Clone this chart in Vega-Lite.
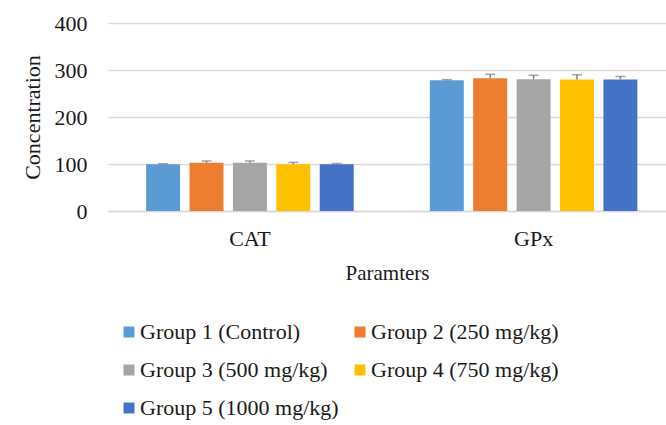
{
  "$schema": "https://vega.github.io/schema/vega-lite/v6.json",
  "autosize": "none",
  "width": 558,
  "height": 188,
  "padding": {"left": 108, "top": 23, "right": 0, "bottom": 214},
  "background": "white",
  "config": {
    "view": {"stroke": null},
    "font": "Liberation Serif",
    "axis": {"labelFont": "Liberation Serif", "titleFont": "Liberation Serif", "labelColor": "#1a1a1a", "titleColor": "#1a1a1a", "titleFontWeight": "normal"},
    "legend": {"labelFont": "Liberation Serif", "labelColor": "#1a1a1a"}
  },
  "data": {
    "values": [
      {"param": "CAT", "group": "Group 1 (Control)", "value": 99.5, "err": 1},
      {"param": "CAT", "group": "Group 2 (250 mg/kg)", "value": 102.5, "err": 4},
      {"param": "CAT", "group": "Group 3 (500 mg/kg)", "value": 102.5, "err": 4},
      {"param": "CAT", "group": "Group 4 (750 mg/kg)", "value": 99.5, "err": 4},
      {"param": "CAT", "group": "Group 5 (1000 mg/kg)", "value": 99.5, "err": 1.5},
      {"param": "GPx", "group": "Group 1 (Control)", "value": 278, "err": 1.5},
      {"param": "GPx", "group": "Group 2 (250 mg/kg)", "value": 282.3, "err": 8.5},
      {"param": "GPx", "group": "Group 3 (500 mg/kg)", "value": 280.2, "err": 8.5},
      {"param": "GPx", "group": "Group 4 (750 mg/kg)", "value": 280, "err": 10},
      {"param": "GPx", "group": "Group 5 (1000 mg/kg)", "value": 280, "err": 6}
    ]
  },
  "transform": [{"calculate": "datum.value + datum.err", "as": "upper"}],
  "encoding": {
    "x": {
      "field": "param", "type": "nominal",
      "scale": {"paddingInner": 0.1, "paddingOuter": 0.0335, "align": 0.75},
      "axis": {
        "title": "Paramters", "labelAngle": 0, "labelFontSize": 22, "titleFontSize": 21,
        "labelPadding": 17, "titlePadding": 13, "ticks": false,
        "domainColor": "#d9d9d9", "domainWidth": 1.3
      }
    },
    "xOffset": {
      "field": "group", "type": "nominal",
      "scale": {"paddingInner": 0.217, "paddingOuter": 0.55}
    }
  },
  "layer": [
    {
      "mark": {"type": "bar"},
      "encoding": {
        "y": {
          "field": "value", "type": "quantitative",
          "scale": {"domain": [0, 400]},
          "axis": {
            "title": "Concentration", "values": [0, 100, 200, 300, 400],
            "labelFontSize": 22, "titleFontSize": 22, "labelPadding": 21,
            "titlePadding": 10, "ticks": false, "domain": false,
            "gridColor": "#d9d9d9", "gridWidth": 1.3
          }
        },
        "color": {
          "field": "group", "type": "nominal",
          "scale": {
            "domain": ["Group 1 (Control)", "Group 2 (250 mg/kg)", "Group 3 (500 mg/kg)", "Group 4 (750 mg/kg)", "Group 5 (1000 mg/kg)"],
            "range": ["#5B9BD5", "#ED7D31", "#A5A5A5", "#FFC000", "#4472C4"]
          },
          "legend": {
            "title": null, "orient": "none", "legendX": 10, "legendY": 298,
            "direction": "horizontal", "columns": 2, "columnPadding": 10,
            "rowPadding": 16, "symbolType": "square", "symbolSize": 121,
            "symbolStrokeWidth": 0, "labelFontSize": 22, "labelOffset": 0, "labelLimit": 400
          }
        }
      }
    },
    {
      "mark": {"type": "rule", "color": "#7f7f7f", "strokeWidth": 1.5},
      "encoding": {
        "y": {"field": "value", "type": "quantitative"},
        "y2": {"field": "upper"}
      }
    },
    {
      "mark": {"type": "tick", "color": "#7f7f7f", "thickness": 1.5, "size": 10},
      "encoding": {
        "y": {"field": "upper", "type": "quantitative"}
      }
    }
  ]
}
